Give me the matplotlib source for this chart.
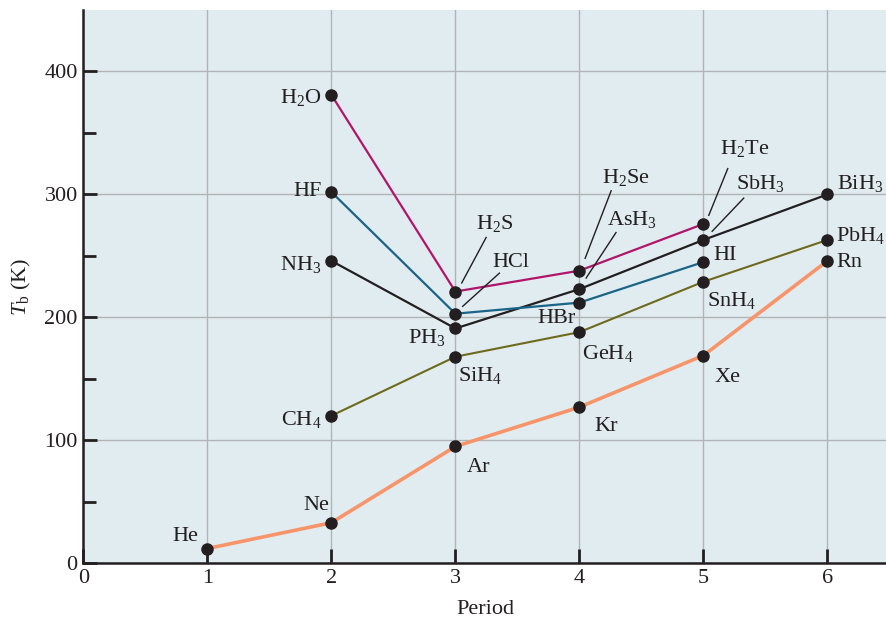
import matplotlib
matplotlib.use("Agg")
import matplotlib.pyplot as plt
from matplotlib.ticker import FixedLocator

plt.rcParams['font.family'] = ['Liberation Serif', 'DejaVu Serif']
plt.rcParams['mathtext.fontset'] = 'custom'
plt.rcParams['mathtext.rm'] = 'Liberation Serif'
plt.rcParams['mathtext.it'] = 'Liberation Serif:italic'

# Data (boiling point, K)
periods_noble = [1, 2, 3, 4, 5, 6]
noble = [12, 33, 95, 127, 169, 246]
noble_names = ['He', 'Ne', 'Ar', 'Kr', 'Xe', 'Rn']

periods_g14 = [2, 3, 4, 5, 6]
group14 = [120, 168, 188, 229, 263]
group14_names = ['CH$_\\mathregular{4}$', 'SiH$_\\mathregular{4}$', 'GeH$_\\mathregular{4}$',
                 'SnH$_\\mathregular{4}$', 'PbH$_\\mathregular{4}$']

periods_g15 = [2, 3, 4, 5, 6]
group15 = [246, 191, 223, 263, 300]
group15_names = ['NH$_\\mathregular{3}$', 'PH$_\\mathregular{3}$', 'AsH$_\\mathregular{3}$',
                 'SbH$_\\mathregular{3}$', 'BiH$_\\mathregular{3}$']

periods_g17 = [2, 3, 4, 5]
group17 = [302, 203, 212, 245]
group17_names = ['HF', 'HCl', 'HBr', 'HI']

periods_g16 = [2, 3, 4, 5]
group16 = [381, 221, 238, 276]
group16_names = ['H$_\\mathregular{2}$O', 'H$_\\mathregular{2}$S', 'H$_\\mathregular{2}$Se',
                 'H$_\\mathregular{2}$Te']

x_ticks = [0, 1, 2, 3, 4, 5, 6]
y_ticks = [0, 100, 200, 300, 400]
y_minor = [50, 150, 250, 350]

fig = plt.figure(figsize=(8.87, 6.19), dpi=100)
ax = fig.add_axes([83.3 / 887, 1 - 563.3 / 619, 1 - 83.3 / 887, (563.3 - 10) / 619])
ax.set_facecolor('#e1ecf0')

ax.set_xlim(0, 6.48)
ax.set_ylim(0, 450)

ax.set_xticks(x_ticks)
ax.set_yticks(y_ticks)
ax.yaxis.set_minor_locator(FixedLocator(y_minor))
ax.grid(True, which='major', color='#b0b4b6', lw=1.0, zorder=0)
ax.set_axisbelow(True)

for s in ['top', 'right']:
    ax.spines[s].set_visible(False)
for s in ['left', 'bottom']:
    ax.spines[s].set_color('#231f20')
    ax.spines[s].set_linewidth(1.8)

fs = 16
tc = '#231f20'

ax.tick_params(axis='both', which='major', direction='in', length=10, width=2,
               color=tc, labelsize=fs, labelcolor=tc, pad=4)
ax.tick_params(axis='y', which='minor', direction='in', length=9, width=2, color=tc)

ms = 8
dotc = '#231f20'
ax.plot(periods_noble, noble, '-', color='#f7946a', lw=2.6, zorder=2)
ax.plot(periods_g14, group14, '-', color='#6e6a1c', lw=1.5, zorder=2)
ax.plot(periods_g15, group15, '-', color='#231f20', lw=1.6, zorder=2)
ax.plot(periods_g17, group17, '-', color='#1a6487', lw=1.6, zorder=2)
ax.plot(periods_g16, group16, '-', color='#b0156a', lw=1.6, zorder=2)
for xs, ys in [(periods_noble, noble), (periods_g14, group14), (periods_g15, group15),
               (periods_g17, group17), (periods_g16, group16)]:
    ax.plot(xs, ys, 'o', color=dotc, ms=ms, zorder=3)


def lab(txt, x, y, ha='left', va='center'):
    ax.text(x, y, txt, ha=ha, va=va, fontsize=fs, color=tc, zorder=4)

# noble gases
lab(noble_names[0], 0.82, 22, ha='center')
lab(noble_names[1], 1.88, 47, ha='center')
lab(noble_names[2], 3.09, 78)
lab(noble_names[3], 4.12, 111)
lab(noble_names[4], 5.09, 151)
lab(noble_names[5], 6.07, 245)
# group 14
lab(group14_names[0], 1.92, 117, ha='right')
lab(group14_names[1], 3.02, 153)
lab(group14_names[2], 4.02, 171)
lab(group14_names[3], 5.03, 214)
lab(group14_names[4], 6.07, 267)
# group 15
lab(group15_names[0], 1.92, 243, ha='right')
lab(group15_names[1], 2.92, 184, ha='right')
lab(group15_names[2], 4.22, 280)
lab(group15_names[3], 5.26, 309)
lab(group15_names[4], 6.08, 309)
# group 17
lab(group17_names[0], 1.92, 302, ha='right')
lab(group17_names[1], 3.30, 245)
lab(group17_names[2], 3.97, 199, ha='right')
lab(group17_names[3], 5.08, 250)
# group 16
lab(group16_names[0], 1.92, 379, ha='right')
lab(group16_names[1], 3.17, 276)
lab(group16_names[2], 4.18, 314)
lab(group16_names[3], 5.13, 337)

# leader lines
leaders = [((3.248, 265), (3.051, 228)),
           ((3.355, 236), (3.059, 209)),
           ((4.256, 303), (4.046, 248)),
           ((4.295, 269), (4.054, 232)),
           ((5.196, 321), (5.043, 283)),
           ((5.325, 297), (5.07, 270))]
for (x0, y0), (x1, y1) in leaders:
    ax.plot([x0, x1], [y0, y1], '-', color=tc, lw=1.0, zorder=4)

ax.set_xlabel('Period', fontsize=fs, color=tc, labelpad=9)
ax.set_ylabel('$T_\\mathregular{b}$ (K)', fontsize=fs, color=tc, labelpad=8)

fig.savefig('out.png', dpi=100)
